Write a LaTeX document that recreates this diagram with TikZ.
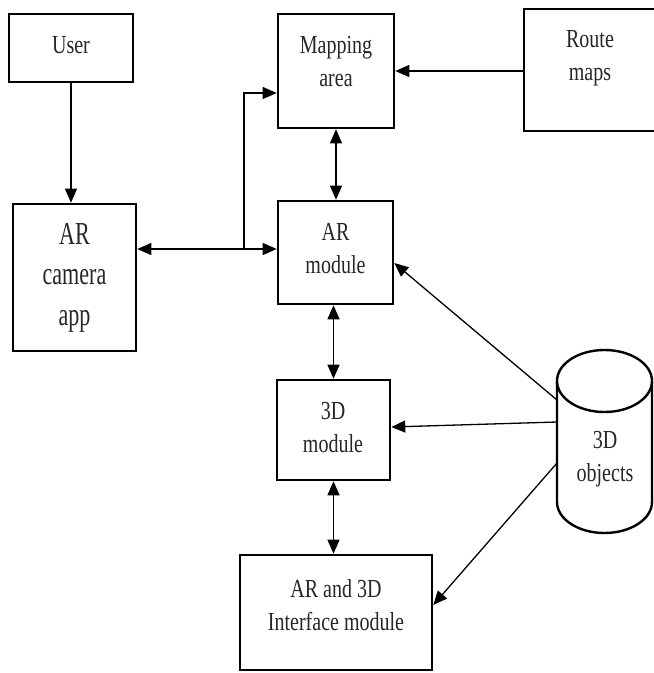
\documentclass[tikz,border=0pt]{standalone}
\usepackage{fontspec}
\setmainfont{Liberation Serif}
\newfontfamily\lblfont{Liberation Serif}[FakeStretch=0.77]
\newfontfamily\bigfont{Liberation Serif}[FakeStretch=0.69]
\usepackage{tikz}
\usetikzlibrary{positioning, arrows.meta}

\tikzset{
    blk/.style={draw, line width=2.6pt, inner sep=0pt},
    lbl/.style={align=center, text=black!85, font=\lblfont\fontsize{26}{33}\selectfont},
    biglbl/.style={align=center, text=black!85, font=\bigfont\fontsize{32}{40.5}\selectfont},
    link/.style={line width=1.3pt, ->},
    dbl/.style={line width=1.3pt, <->},
    >={Triangle[length=14pt, width=12pt]}
}

\begin{document}
\begin{tikzpicture}[x=1pt, y=1pt]
    \useasboundingbox (0,0) rectangle (654,-673);
    % boxes
    \node[blk, minimum width=124pt, minimum height=68pt] (user) at (71,-48) {};
    \node[lbl] (user-t) at (71,-45) {User};
    \node[blk, minimum width=123pt, minimum height=147pt] (camera) at (74.5,-277.5) {};
    \node[biglbl] (camera-t) at (74.5,-277.5) {AR\\camera\\app};
    \node[blk, minimum width=116pt, minimum height=114pt] (map) at (336,-71) {};
    \node[lbl] (map-t) at (336,-61.5) {Mapping\\area};
    \node[blk, minimum width=136pt, minimum height=122pt] (route) at (592,-70) {};
    \node[lbl] (route-t) at (590,-58.5) {Route\\maps};
    \node[blk, minimum width=115pt, minimum height=103pt] (armod) at (335.5,-252.5) {};
    \node[lbl] (armod-t) at (335.5,-248.5) {AR\\module};
    \node[blk, minimum width=113pt, minimum height=100pt] (mod3d) at (333.5,-430) {};
    \node[lbl] (mod3d-t) at (333,-428) {3D\\module};
    \node[blk, minimum width=192pt, minimum height=115pt] (iface) at (336,-612.5) {};
    \node[lbl] (iface-t) at (336,-605.5) {AR and 3D\\Interface module};
    % database
    \coordinate (db) at (604.5,-381);
    \draw[line width=2.4pt] (db) ellipse (47.5 and 31);
    \draw[line width=2.4pt] ([xshift=-47.5pt]db) -- ++(0,-121) arc (180:360:47.5 and 31) -- ([xshift=47.5pt]db);
    \node[lbl] (db-t) at (605,-459) {3D\\objects};
    \coordinate (db-a) at (557,-400);
    \coordinate (db-b) at (557,-422);
    \coordinate (db-c) at (557,-463);
    % connectors
    \coordinate (jn) at (244,-249);
    \coordinate (brk) at (244,-93);
    \draw[link] (user.south) -- (user.south |- camera.north);
    \draw[dbl] (jn -| camera.east) -- (jn -| armod.west);
    \draw[link] (jn) -- (brk) -- (brk -| map.west);
    \draw[link] (route.west |- map) -- (map.east);
    \draw[dbl] (map.south) -- (map.south |- armod.north);
    \draw[dbl] (mod3d.north |- armod.south) -- (mod3d.north);
    \draw[dbl] (mod3d.south) -- (mod3d.south |- iface.north);
    \draw[link] (db-a) -- ([yshift=-10.5pt]armod.east);
    \draw[link] (db-b) -- ([yshift=3pt]mod3d.east);
    \draw[link] (db-c) -- ([yshift=7.5pt]iface.east);
\end{tikzpicture}
\end{document}
